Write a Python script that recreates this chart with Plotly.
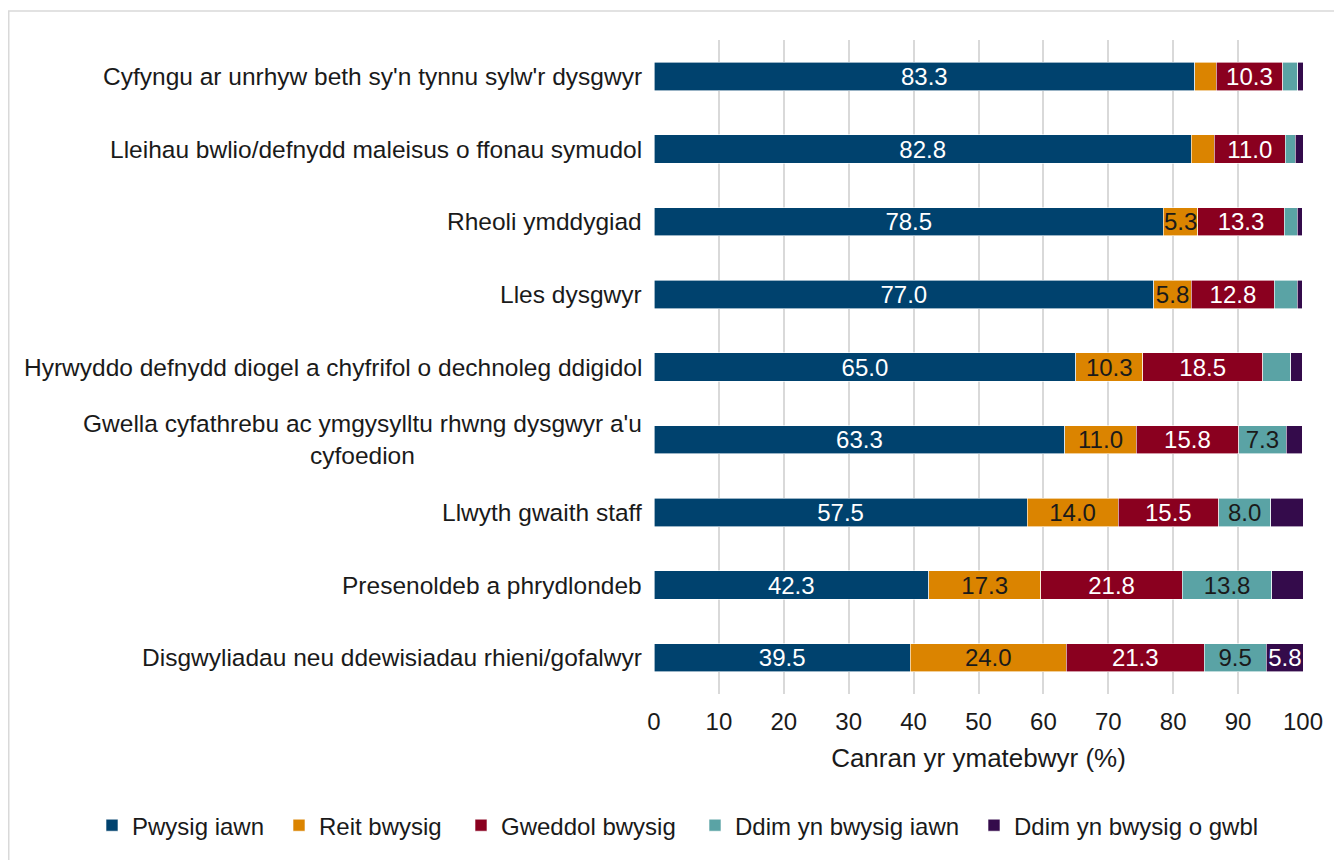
import plotly.graph_objects as go

categories = [
    "Cyfyngu ar unrhyw beth sy'n tynnu sylw'r dysgwyr",
    "Lleihau bwlio/defnydd maleisus o ffonau symudol",
    "Rheoli ymddygiad",
    "Lles dysgwyr",
    "Hyrwyddo defnydd diogel a chyfrifol o dechnoleg ddigidol",
    "Gwella cyfathrebu ac ymgysylltu rhwng dysgwyr a'u<br>cyfoedion",
    "Llwyth gwaith staff",
    "Presenoldeb a phrydlondeb",
    "Disgwyliadau neu ddewisiadau rhieni/gofalwyr",
]

pwysig_iawn = [83.3, 82.8, 78.5, 77.0, 65.0, 63.3, 57.5, 42.3, 39.5]
reit_bwysig = [3.3, 3.5, 5.3, 5.8, 10.3, 11.0, 14.0, 17.3, 24.0]
gweddol_bwysig = [10.3, 11.0, 13.3, 12.8, 18.5, 15.8, 15.5, 21.8, 21.3]
ddim_iawn = [2.3, 1.5, 2.0, 3.5, 4.3, 7.3, 8.0, 13.8, 9.5]
ddim_o_gwbl = [0.8, 1.2, 0.8, 0.8, 1.8, 2.5, 5.0, 4.8, 5.8]

series_names = ["Pwysig iawn", "Reit bwysig", "Gweddol bwysig",
                "Ddim yn bwysig iawn", "Ddim yn bwysig o gwbl"]
series_values = [pwysig_iawn, reit_bwysig, gweddol_bwysig, ddim_iawn, ddim_o_gwbl]
colors = ["#00426E", "#DB8400", "#8A001F", "#5AA3A5", "#340B4B"]
text_colors = ["white", "#1a1a1a", "white", "#1a1a1a", "white"]

FONT = "Liberation Sans, Arial, sans-serif"
FS = 24

# page is offset by 8px body margin
W, H = 1334, 852
L, R, T, B = 646, 39, 32, 164
pw, ph = W - L - R, H - T - B

# legend box left edges (figure px)
legend_left_px = [84, 271, 453, 687, 966]
legend_ids = ["legend", "legend2", "legend3", "legend4", "legend5"]

fig = go.Figure()
for name, vals, col, tc, lid in zip(series_names, series_values, colors, text_colors, legend_ids):
    fig.add_trace(go.Bar(
        y=list(range(len(categories))),
        x=vals,
        name=name,
        orientation="h",
        legend=lid,
        marker=dict(color=col, line=dict(color="white", width=0.6)),
        text=[f"{v:.1f}" if v >= 5.2 else "" for v in vals],
        textposition="inside",
        insidetextanchor="middle",
        textangle=0,
        constraintext="none",
        textfont=dict(family=FONT, size=FS, color=tc),
        hoverinfo="skip",
    ))

annotations = []
for i, c in enumerate(categories):
    annotations.append(dict(
        x=0, xref="paper", y=i, yref="y", text=c, showarrow=False,
        xanchor="right", yanchor="middle", align="center", xshift=-10,
        font=dict(family=FONT, size=24.5, color="#1a1a1a"),
    ))

shapes = [dict(
    type="rect", xref="paper", yref="paper",
    x0=(0.75 - L) / pw, x1=(W + 20 - L) / pw,
    y0=(H - B - (H + 20)) / ph, y1=(H - B - 3) / ph,
    line=dict(color="#d9d9d9", width=1.5), fillcolor="rgba(0,0,0,0)", layer="below",
)]

legend_common = dict(orientation="h", xref="paper", yref="paper", xanchor="left",
                     y=(H - B - 820) / ph, yanchor="middle", font=dict(size=FS),
                     bgcolor="rgba(0,0,0,0)")
legend_layout = {}
for lid, lx in zip(legend_ids, legend_left_px):
    legend_layout[lid] = dict(legend_common, x=(lx - L) / pw)

fig.update_layout(
    width=W, height=H,
    margin=dict(l=L, r=R, t=T, b=B),
    barmode="stack",
    bargap=0.61,
    plot_bgcolor="white",
    paper_bgcolor="white",
    font=dict(family=FONT, size=FS, color="#1a1a1a"),
    uniformtext=dict(mode="show", minsize=FS),
    xaxis=dict(
        range=[0, 100], dtick=10, showgrid=True, gridcolor="#d9d9d9", gridwidth=2,
        zeroline=False, showline=False, ticks="", tickfont=dict(size=FS),
        ticklabelstandoff=11,
        title=dict(text="Canran yr ymatebwyr (%)", font=dict(size=26), standoff=14),
        fixedrange=True,
    ),
    yaxis=dict(
        range=[len(categories) - 0.5, -0.5], showticklabels=False, showgrid=False,
        zeroline=False, ticks="", fixedrange=True,
    ),
    annotations=annotations,
    shapes=shapes,
    showlegend=True,
    **legend_layout,
)

fig.write_html("out.html")
